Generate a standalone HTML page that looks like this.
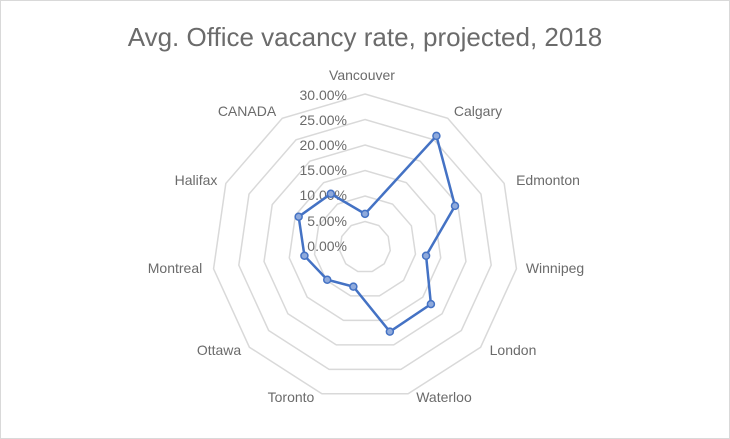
<!DOCTYPE html>
<html><head><style>
body{margin:0;background:#fff}
svg{display:block;font-family:"Liberation Sans",sans-serif}
</style></head><body>
<svg id="s" width="730" height="439" xmlns="http://www.w3.org/2000/svg">
<rect x="0.5" y="0.5" width="729" height="438" fill="#fff" stroke="#d9d9d9"/>
<text x="365" y="46" text-anchor="middle" font-size="26" fill="#6b6b6b">Avg. Office vacancy rate, projected, 2018</text>
<g id="grid" fill="none" stroke="#d9d9d9" stroke-width="1.5"></g>
<g font-size="14" fill="#6b6b6b" text-anchor="end">
<text x="347" y="100">30.00%</text><text x="347" y="125">25.00%</text><text x="347" y="150">20.00%</text>
<text x="347" y="175">15.00%</text><text x="347" y="200">10.00%</text><text x="347" y="226">5.00%</text>
<text x="347" y="251">0.00%</text>
</g>
<g font-size="14" fill="#6b6b6b" text-anchor="middle">
<text x="362" y="80">Vancouver</text><text x="478" y="116">Calgary</text><text x="548" y="185">Edmonton</text>
<text x="555" y="273">Winnipeg</text><text x="513" y="355">London</text><text x="444" y="402">Waterloo</text>
<text x="291" y="402">Toronto</text><text x="219" y="355">Ottawa</text><text x="175" y="273">Montreal</text>
<text x="196" y="185">Halifax</text><text x="247" y="116">CANADA</text>
</g>
<g id="data"></g>
</svg>
<script>
var cx=365,cy=247,R=153,n=11,ns="http://www.w3.org/2000/svg";
function pt(r,i){var a=-Math.PI/2+2*Math.PI*i/n;return [cx+r*Math.cos(a),cy+r*Math.sin(a)];}
var g=document.getElementById('grid');
for(var k=1;k<=6;k++){var r=R*k/6,p=[];for(var i=0;i<n;i++)p.push(pt(r,i).join(','));
var e=document.createElementNS(ns,'polygon');e.setAttribute('points',p.join(' '));g.appendChild(e);}
var v=[6.5,25.9,19.4,12.1,17.1,17.3,8.1,9.8,12,14.3,12.4],d=document.getElementById('data'),pp=[];
for(var i=0;i<n;i++)pp.push(pt(R*v[i]/30,i));
var pl=document.createElementNS(ns,'polygon');pl.setAttribute('points',pp.map(function(q){return q.join(',')}).join(' '));
pl.setAttribute('fill','none');pl.setAttribute('stroke','#4472c4');pl.setAttribute('stroke-width','2.5');d.appendChild(pl);
pp.forEach(function(q){var c=document.createElementNS(ns,'circle');c.setAttribute('cx',q[0]);c.setAttribute('cy',q[1]);c.setAttribute('r','3.5');
c.setAttribute('fill','#8faadc');c.setAttribute('stroke','#4472c4');c.setAttribute('stroke-width','1.5');d.appendChild(c);});
</script>
</body></html>
